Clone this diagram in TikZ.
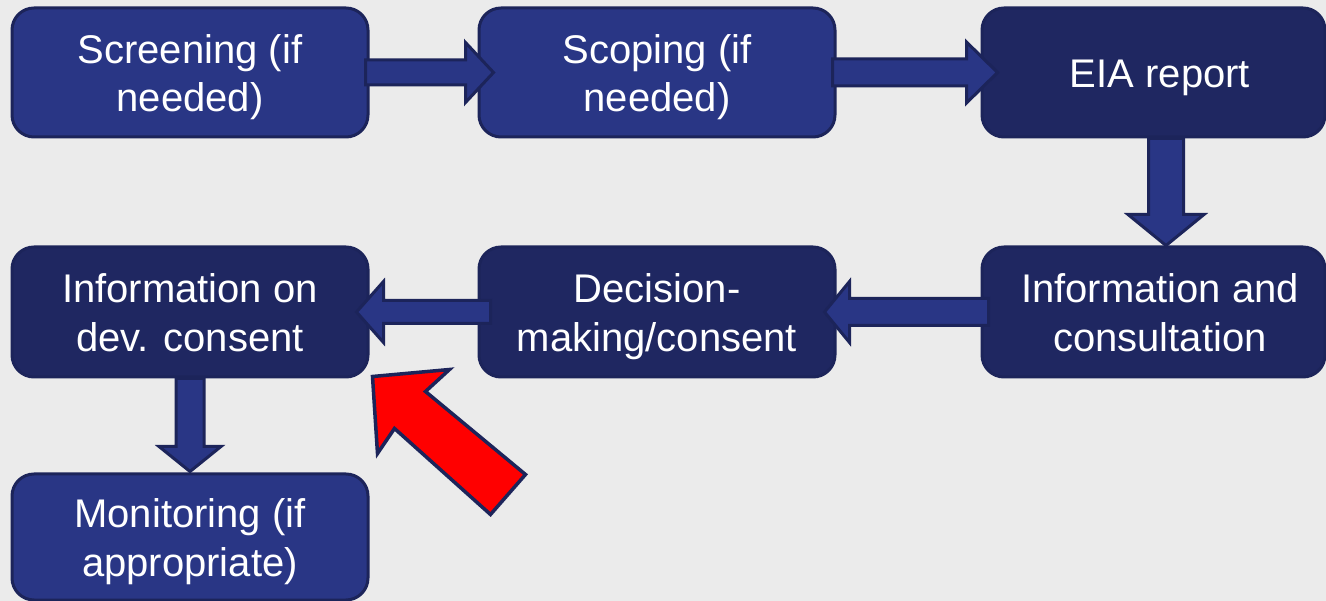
\documentclass[tikz,border=0pt]{standalone}
\usepackage{fontspec}
\setmainfont{Liberation Sans}
\usetikzlibrary{calc}
\definecolor{bg}{HTML}{EBEBEB}
\definecolor{lightbox}{HTML}{293685}
\definecolor{darkbox}{HTML}{1F2761}
\definecolor{edge}{HTML}{1C245A}
\newcommand\tstrut{\rule[-9pt]{0pt}{48pt}}
\tikzset{
  box/.style={rounded corners=22pt, line width=3pt, draw=edge, text=white,
    minimum width=356pt, minimum height=129pt, align=center, inner sep=0pt,
    font=\fontsize{40}{48.5}\selectfont},
  lbox/.style={box, fill=lightbox},
  dbox/.style={box, fill=darkbox},
  barrow/.style={fill=lightbox, draw=edge, line width=3pt, line join=miter},
  redarrow/.style={fill=red, draw=edge, line width=3.5pt, line join=miter}
}
% horizontal block arrow: from, tip, shaft half, head half, head length (signed)
\newcommand\harrow[5]{%
  \draw[barrow] let \p1=(#1), \p2=(#2) in
   (\x1,\y1+#3) -- (\x2-#5,\y1+#3) -- (\x2-#5,\y1+#4) -- (\x2,\y1)
   -- (\x2-#5,\y1-#4) -- (\x2-#5,\y1-#3) -- (\x1,\y1-#3) -- cycle;}
% vertical (downward) block arrow: from, tip, shaft half, head half, head length
\newcommand\varrow[5]{%
  \draw[barrow] let \p1=(#1), \p2=(#2) in
   (\x1-#3,\y1) -- (\x1-#3,\y2+#5) -- (\x1-#4,\y2+#5) -- (\x1,\y2)
   -- (\x1+#4,\y2+#5) -- (\x1+#3,\y2+#5) -- (\x1+#3,\y1) -- cycle;}
\begin{document}
\begin{tikzpicture}[x=1pt,y=-1pt]
\useasboundingbox (0,0) rectangle (1326,601);
\fill[bg] (0,0) rectangle (1326,601);

\node[lbox] (scr) at (190,72.5) {\tstrut Screening (if\\\tstrut needed)};
\node[lbox] (scp) at (657,72.5) {\tstrut Scoping (if\\\tstrut needed)};
\node[dbox, minimum width=343pt] (eia) at (1153.5,72.5) {\hspace*{13pt}\tstrut EIA report};
\node[dbox, minimum width=343pt, minimum height=130pt] (icons) at (1153.5,312) {\hspace*{13pt}\tstrut Information and\\\hspace*{13pt}\tstrut consultation};
\node[dbox, minimum height=130pt] (dec) at (657,312) {\tstrut Decision-\\\tstrut making/consent};
\node[dbox, minimum height=130pt] (idev) at (190,312) {\tstrut Information on\\\tstrut dev. consent};
\node[lbox, minimum height=126pt] (mon) at (190,537) {\tstrut Monitoring (if\\\tstrut appropriate)};

\harrow{$(scr.east)+(-4,0)$}{$(scp.west)+(16,0)$}{12.5pt}{30pt}{28pt}
\harrow{$(scp.east)+(-4,0)$}{$(eia.west)+(17,0)$}{13.5pt}{30.5pt}{31pt}
\varrow{$(eia.south)+(12.5,0)$}{$(icons.north)+(12.5,0)$}{17.5pt}{38pt}{31pt}
\harrow{$(icons.west)+(8,0)$}{$(dec.east)+(-12,0)$}{13.5pt}{30.5pt}{-25pt}
\harrow{$(dec.west)+(13,0)$}{$(idev.east)+(-13,0)$}{11.5pt}{30.5pt}{-27pt}
\varrow{idev.south}{$(mon.north)+(0,-1)$}{14pt}{31pt}{25pt}

\coordinate (redtip) at ($(idev.south east)+(3,-2)$);
\draw[redarrow] (redtip) -- ++(77,-7) -- ++(-24,22) -- ++(100,83) -- ++(-35,40)
  -- ++(-96,-86) -- ++(-17,25) -- cycle;
\end{tikzpicture}
\end{document}
